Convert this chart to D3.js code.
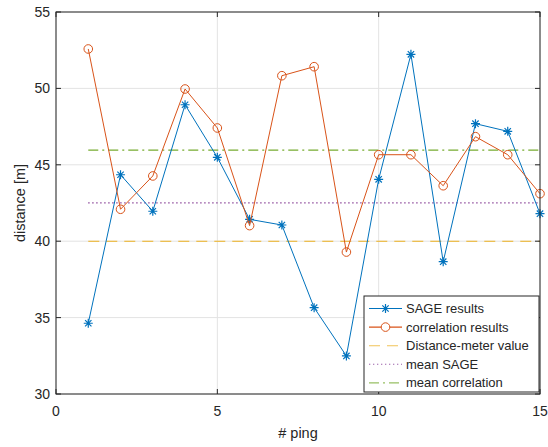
<!DOCTYPE html>
<html>
<head>
<meta charset="utf-8">
<script src="https://cdn.jsdelivr.net/npm/d3@7"></script>
<style>
  body { margin: 0; background: #fff; }
  svg { font-family: "Liberation Sans", Arial, sans-serif; }
</style>
</head>
<body>
<div id="chart"></div>
<script>
// values
const pings = [1, 2, 3, 4, 5, 6, 7, 8, 9, 10, 11, 12, 13, 14, 15];
const sageResults = [34.63, 44.35, 41.96, 48.93, 45.49, 41.43, 41.06, 35.65, 32.49, 44.05, 52.23, 38.66, 47.69, 47.19, 41.8];
const corrResults = [52.58, 42.09, 44.27, 49.96, 47.41, 41.02, 50.83, 51.42, 39.29, 45.66, 45.66, 43.63, 46.84, 45.66, 43.11];
const meterValue = 40;
const meanSage = 42.51;
const meanCorr = 45.96;
const xTicks = [0, 5, 10, 15];
const yTicks = [30, 35, 40, 45, 50, 55];

const W = 548, H = 447;
const margin = {top: 12, right: 8, bottom: 53, left: 56};
const width = W - margin.left - margin.right,
    height = H - margin.top - margin.bottom;

const C = {
    blue: "#0072BD", orange: "#D95319", yellow: "#EDB120",
    purple: "#7E2F8E", green: "#77AC30", axis: "#262626", grid: "#e3e3e3"
};
const DASH = {dashed: "11,7", dotted: "1.3,2.7", dashdot: "10,4,2,4"};

const svg = d3.select("#chart").append("svg")
    .attr("width", W).attr("height", H);
const g = svg.append("g")
    .attr("transform", `translate(${margin.left},${margin.top})`);

const x = d3.scaleLinear().domain([0, 15]).range([0, width]);
const y = d3.scaleLinear().domain([30, 55]).range([height, 0]);

// grid
g.append("g").selectAll("line").data(xTicks).join("line")
    .attr("x1", d => x(d)).attr("x2", d => x(d))
    .attr("y1", 0).attr("y2", height)
    .attr("stroke", C.grid).attr("stroke-width", 1);
g.append("g").selectAll("line").data(yTicks).join("line")
    .attr("x1", 0).attr("x2", width)
    .attr("y1", d => y(d)).attr("y2", d => y(d))
    .attr("stroke", C.grid).attr("stroke-width", 1);

// reference lines
const hline = function(val, color, dash) {
    g.append("line")
        .attr("x1", x(1)).attr("x2", x(15))
        .attr("y1", y(val)).attr("y2", y(val))
        .attr("stroke", color).attr("stroke-width", 1.1)
        .attr("stroke-dasharray", dash);
}
hline(meterValue, C.yellow, DASH.dashed);
hline(meanSage, C.purple, DASH.dotted);
hline(meanCorr, C.green, DASH.dashdot);

const line = d3.line().x((d, i) => x(pings[i])).y(d => y(d));

// SAGE series
g.append("path").datum(sageResults)
    .attr("d", line).attr("fill", "none")
    .attr("stroke", C.blue).attr("stroke-width", 1);

function star(s) {
    const a = s * 0.7071;
    return `M${-s},0L${s},0M0,${-s}L0,${s}M${-a},${-a}L${a},${a}M${-a},${a}L${a},${-a}`;
}
g.append("g").selectAll("path").data(sageResults).join("path")
    .attr("transform", (d, i) => `translate(${x(pings[i])},${y(d)})`)
    .attr("d", star(4.5))
    .attr("stroke", C.blue).attr("stroke-width", 1.2).attr("fill", "none");

// correlation series
g.append("path").datum(corrResults)
    .attr("d", line).attr("fill", "none")
    .attr("stroke", C.orange).attr("stroke-width", 1);
g.append("g").selectAll("circle").data(corrResults).join("circle")
    .attr("cx", (d, i) => x(pings[i])).attr("cy", d => y(d))
    .attr("r", 4.3)
    .attr("fill", "none").attr("stroke", C.orange).attr("stroke-width", 1);

// axes box with inward ticks
const tickLen = 5;
const axes = g.append("g").attr("stroke", C.axis).attr("stroke-width", 1);
axes.append("rect").attr("x", 0).attr("y", 0)
    .attr("width", width).attr("height", height).attr("fill", "none");
xTicks.forEach(t => {
    axes.append("line").attr("x1", x(t)).attr("x2", x(t)).attr("y1", height).attr("y2", height - tickLen);
    axes.append("line").attr("x1", x(t)).attr("x2", x(t)).attr("y1", 0).attr("y2", tickLen);
});
yTicks.forEach(t => {
    axes.append("line").attr("x1", 0).attr("x2", tickLen).attr("y1", y(t)).attr("y2", y(t));
    axes.append("line").attr("x1", width).attr("x2", width - tickLen).attr("y1", y(t)).attr("y2", y(t));
});

// tick labels
g.append("g").selectAll("text").data(xTicks).join("text")
    .attr("x", d => x(d)).attr("y", height + 22)
    .attr("text-anchor", "middle").attr("font-size", 14).attr("fill", C.axis)
    .text(d => d);
g.append("g").selectAll("text").data(yTicks).join("text")
    .attr("x", -6).attr("y", d => y(d) + 5)
    .attr("text-anchor", "end").attr("font-size", 14).attr("fill", C.axis)
    .text(d => d);

// axis labels
g.append("text")
    .attr("x", width / 2).attr("y", height + 44)
    .attr("text-anchor", "middle").attr("font-size", 14.5).attr("fill", C.axis)
    .text("# ping");
g.append("text")
    .attr("transform", `translate(-31,${height / 2}) rotate(-90)`)
    .attr("text-anchor", "middle").attr("font-size", 14.5).attr("fill", C.axis)
    .text("distance [m]");

// legend
const legendItems = [
    {label: "SAGE results", color: C.blue, marker: "star"},
    {label: "correlation results", color: C.orange, marker: "circle"},
    {label: "Distance-meter value", color: C.yellow, dash: DASH.dashed},
    {label: "mean SAGE", color: C.purple, dash: DASH.dotted},
    {label: "mean correlation", color: C.green, dash: DASH.dashdot}
];
const lg = svg.append("g").attr("transform", "translate(364,296)");
lg.append("rect").attr("width", 175).attr("height", 96)
    .attr("fill", "#fff").attr("stroke", C.axis).attr("stroke-width", 1);
legendItems.forEach((it, i) => {
    const yy = 12.5 + i * 18.6;
    lg.append("line").attr("x1", 5).attr("x2", 38).attr("y1", yy).attr("y2", yy)
        .attr("stroke", it.color).attr("stroke-width", 1.1)
        .attr("stroke-dasharray", it.dash || null)
        .attr("opacity", it.dash ? 0.75 : 1);
    if (it.marker === "star") {
        lg.append("path").attr("transform", `translate(21.5,${yy})`).attr("d", star(4.5))
            .attr("stroke", it.color).attr("stroke-width", 1.2).attr("fill", "none");
    } else if (it.marker === "circle") {
        lg.append("circle").attr("cx", 21.5).attr("cy", yy).attr("r", 4.3)
            .attr("fill", "#fff").attr("stroke", it.color).attr("stroke-width", 1);
    }
    lg.append("text").attr("x", 42).attr("y", yy + 4.5)
        .attr("font-size", 13).attr("fill", C.axis).text(it.label);
});
</script>
</body>
</html>
